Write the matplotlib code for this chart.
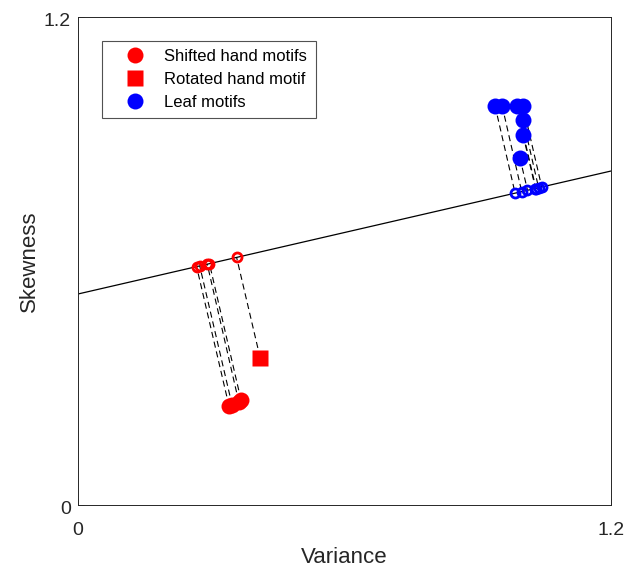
import matplotlib
matplotlib.use("Agg")
import matplotlib.pyplot as plt
import matplotlib.transforms as mtransforms
import numpy as np

plt.rcParams['font.family'] = ['Liberation Sans', 'DejaVu Sans']

# Regression line
line_x = [0.0, 1.2]
line_intercept = 0.5196
line_slope = 0.2520

# Shifted hand motifs (original) and their projections on the line
shifted_x = [0.340, 0.347, 0.362, 0.367]
shifted_y = [0.244, 0.246, 0.254, 0.259]
shifted_proj_x = [0.267, 0.274, 0.291, 0.296]
shifted_proj_y = [0.587, 0.589, 0.593, 0.594]

# Rotated hand motif
rotated_x = [0.410]
rotated_y = [0.363]
rotated_proj_x = [0.357]
rotated_proj_y = [0.610]

# Leaf motifs
leaf_x = [0.939, 0.955, 0.988, 1.002, 1.002, 1.002, 0.995]
leaf_y = [0.982, 0.982, 0.982, 0.982, 0.948, 0.911, 0.854]
leaf_proj_x = [0.984, 0.999, 1.031, 1.044, 1.037, 1.030, 1.012]
leaf_proj_y = [0.768, 0.771, 0.779, 0.783, 0.781, 0.779, 0.775]

fig = plt.figure(figsize=(6.34, 5.68), dpi=100)
ax = fig.add_axes([78/634, 1-505.3/568, 533/634, 488/568])

lx = np.array(line_x)
ax.plot(lx, line_intercept + line_slope*lx, color='black', lw=0.9, zorder=2)

dash = (0, (5.5, 3.5))
for xs, ys, pxs, pys in [(shifted_x, shifted_y, shifted_proj_x, shifted_proj_y),
                         (rotated_x, rotated_y, rotated_proj_x, rotated_proj_y),
                         (leaf_x, leaf_y, leaf_proj_x, leaf_proj_y)]:
    for a, b, c, d in zip(xs, ys, pxs, pys):
        ax.plot([a, c], [b, d], color='black', lw=0.8, linestyle=dash, zorder=3)

red = '#ff0000'
blue = '#0000ff'
ax.plot(shifted_proj_x, shifted_proj_y, 'o', ms=6.5, mfc='none', mec=red, mew=2.0, zorder=4, ls='none')
ax.plot(rotated_proj_x, rotated_proj_y, 'o', ms=6.5, mfc='none', mec=red, mew=2.0, zorder=4, ls='none')
ax.plot(leaf_proj_x, leaf_proj_y, 'o', ms=6.5, mfc='none', mec=blue, mew=2.0, zorder=4, ls='none')

h1, = ax.plot(shifted_x, shifted_y, 'o', ms=11.5, color=red, mec='none', ls='none', zorder=5, label='Shifted hand motifs')
h2, = ax.plot(rotated_x, rotated_y, 's', ms=11, color=red, mec='none', ls='none', zorder=5, label='Rotated hand motif')
h3, = ax.plot(leaf_x, leaf_y, 'o', ms=11.5, color=blue, mec='none', ls='none', zorder=5, label='Leaf motifs')

ax.set_xlim(0, 1.2)
ax.set_ylim(0, 1.2)
ax.set_xticks([0, 1.2])
ax.set_xticklabels(['0', '1.2'])
ax.set_yticks([0, 1.2])
ax.set_yticklabels(['0', '1.2'])
ax.tick_params(direction='in', length=4, width=0.6, colors='#262626', labelsize=14)
ax.tick_params(axis='x', pad=12)
ax.tick_params(axis='y', pad=5)
shift_down = mtransforms.ScaledTranslation(0, -2/100, fig.dpi_scale_trans)
for lab in ax.get_yticklabels():
    lab.set_transform(lab.get_transform() + shift_down)
for s in ax.spines.values():
    s.set_color('#262626')
    s.set_linewidth(0.7)

ax.set_xlabel('Variance', fontsize=16, color='#262626', labelpad=6)
ax.set_ylabel('Skewness', fontsize=16, color='#262626', labelpad=3)

leg = ax.legend(handles=[h1, h2, h3], loc='upper left', bbox_to_anchor=(0.0445, 0.952),
                borderaxespad=0, fontsize=12, frameon=True, fancybox=False,
                borderpad=0.5, handlelength=2.96, handletextpad=0.3, labelspacing=0.48,
                numpoints=1)
leg.get_frame().set_edgecolor('#262626')
leg.get_frame().set_linewidth(0.8)
for t in leg.get_texts():
    t.set_color('black')

fig.savefig('out.png', dpi=100)
